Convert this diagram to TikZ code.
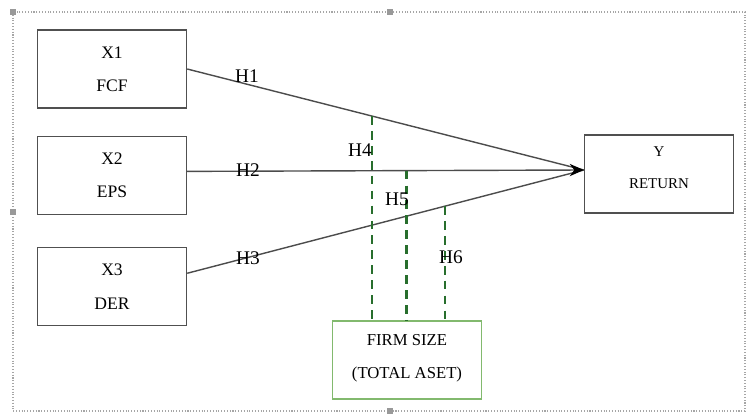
\documentclass[tikz,border=0pt]{standalone}
\usepackage{fontspec}
\setmainfont{Liberation Serif}
\usetikzlibrary{positioning, arrows.meta, calc}
\definecolor{boxgray}{RGB}{80,80,80}
\definecolor{sizegreen}{RGB}{130,185,110}
\definecolor{dashgreen}{RGB}{40,110,45}
\tikzset{
    var/.style={draw=boxgray, line width=0.8pt, minimum width=2.98cm, minimum height=1.56cm, align=center, font=\fontsize{10}{12}\selectfont}, % variable boxes
    hline/.style={draw=black!70, line width=0.8pt}, % hypothesis lines
    tip/.style={-{Stealth[length=8pt, width=7pt, black]}}, % filled arrow head
    moderator/.style={draw=dashgreen, line width=1.2pt, dash pattern=on 5pt off 3.5pt}, % firm size lines
    hyp/.style={font=\fontsize{11}{13}\selectfont, inner sep=0pt}, % H labels
    frame/.style={draw=gray!70, densely dotted, line width=0.6pt},
}
\begin{document}
\begin{tikzpicture}[x=0.02cm, y=-0.02cm]
\useasboundingbox (0,0) rectangle (750,415);
% selection frame
\draw[frame] (13,12) rectangle (745,411);
\foreach \hx/\hy in {13/12, 390/12, 13/212, 390/411}
    \fill[gray!80] (\hx-3,\hy-3) rectangle (\hx+3,\hy+3);

\node[var] (x1) at (112,69) {X1\\[7pt]FCF};
\node[var, below=0.54cm of x1] (x2) {X2\\[7pt]EPS};
\node[var, below=0.64cm of x2] (x3) {X3\\[7pt]DER};
\node[var, font=\fontsize{8.5}{10}\selectfont] (y) at (659,174) {Y\\[8.5pt]RETURN\\[-3pt]};
\node[var, draw=sizegreen, font=\fontsize{9.5}{11}\selectfont] (size) at (407,360) {FIRM SIZE\\[8pt](TOTAL ASET)\\[-7pt]};

% all paths meet slightly above the middle of Y
\coordinate (meet) at ([yshift=0.08cm]y.west);
\draw[hline] (x1.east) -- coordinate[pos=0.465] (m4) (meet);
\draw[hline] ([yshift=0.27cm]x3.east) -- coordinate[pos=0.651] (m6) (meet);
\draw[hline, tip] ([yshift=0.08cm]x2.east) -- coordinate[pos=0.553] (m5) (meet);

\draw[moderator] (m4) -- (m4 |- size.north);
\draw[moderator] (m5) -- (m5 |- size.north);
\draw[moderator] (m6) -- (m6 |- size.north);

\node[hyp] (h1) at (247,76) {H1};
\node[hyp] (h2) at (248,170) {H2};
\node[hyp] (h3) at (248,258) {H3};
\node[hyp] (h4) at (360,150) {H4};
\node[hyp] (h5) at (397,199) {H5};
\node[hyp] (h6) at (451,257) {H6};
\end{tikzpicture}
\end{document}
